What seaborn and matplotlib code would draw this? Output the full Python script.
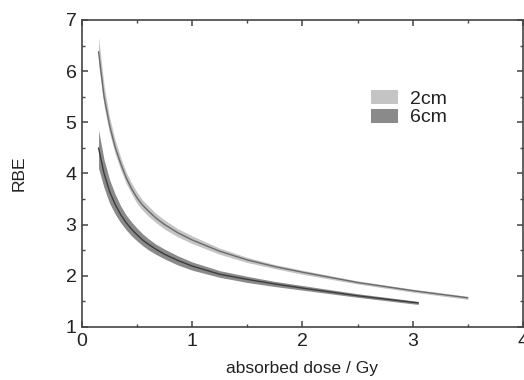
import matplotlib
matplotlib.use("Agg")
import matplotlib.pyplot as plt
import seaborn as sns
import pandas as pd
from matplotlib.patches import Patch
from matplotlib.ticker import MultipleLocator

# absorbed dose (Gy) and RBE
dose_2cm = [0.15, 0.2, 0.25, 0.3, 0.35, 0.4, 0.45, 0.5, 0.55, 0.6, 0.67, 0.75, 0.87, 1.0,
            1.25, 1.5, 1.75, 2.0, 2.5, 3.0, 3.5]
rbe_2cm = [6.38, 5.5, 4.94, 4.52, 4.2, 3.92, 3.7, 3.52, 3.38, 3.27, 3.13, 3.0, 2.84, 2.7,
           2.48, 2.31, 2.18, 2.07, 1.87, 1.71, 1.57]
rbe_2cm_lo = [6.15, 5.32, 4.79, 4.39, 4.08, 3.81, 3.6, 3.41, 3.28, 3.17, 3.04, 2.91, 2.76, 2.63,
              2.42, 2.26, 2.14, 2.03, 1.84, 1.68, 1.54]
rbe_2cm_hi = [6.67, 5.72, 5.1, 4.66, 4.32, 4.03, 3.81, 3.63, 3.48, 3.37, 3.22, 3.09, 2.92, 2.78,
              2.54, 2.36, 2.22, 2.11, 1.9, 1.74, 1.6]

dose_6cm = [0.15, 0.2, 0.25, 0.3, 0.35, 0.4, 0.45, 0.5, 0.55, 0.6, 0.67, 0.75, 0.87, 1.0,
            1.25, 1.5, 1.75, 2.0, 2.5, 3.05]
rbe_6cm = [4.5, 4.0, 3.65, 3.4, 3.2, 3.04, 2.91, 2.8, 2.7, 2.62, 2.52, 2.42, 2.3, 2.19,
           2.03, 1.93, 1.84, 1.76, 1.61, 1.47]
rbe_6cm_lo = [4.1, 3.72, 3.42, 3.21, 3.04, 2.9, 2.78, 2.68, 2.59, 2.51, 2.42, 2.33, 2.21, 2.11,
              1.97, 1.87, 1.79, 1.72, 1.58, 1.44]
rbe_6cm_hi = [4.85, 4.27, 3.88, 3.6, 3.37, 3.19, 3.05, 2.93, 2.82, 2.73, 2.62, 2.52, 2.39, 2.27,
              2.1, 1.99, 1.89, 1.81, 1.65, 1.5]

labels = ["2cm", "6cm"]
band_colors = ["#c4c4c4", "#8a8a8a"]
line_colors = ["#6a6a6a", "#3c3c3c"]

df = pd.concat([
    pd.DataFrame({"dose": dose_2cm, "rbe": rbe_2cm, "lo": rbe_2cm_lo, "hi": rbe_2cm_hi, "depth": "2cm"}),
    pd.DataFrame({"dose": dose_6cm, "rbe": rbe_6cm, "lo": rbe_6cm_lo, "hi": rbe_6cm_hi, "depth": "6cm"}),
])

sns.set_style("ticks")
plt.rcParams["font.family"] = ["Liberation Sans", "DejaVu Sans"]

fig = plt.figure(figsize=(5.24, 3.8), dpi=100)
ax = fig.add_axes([0.1565, 0.1395, 0.8415, 0.808])

for lab, bc, lc in zip(labels, band_colors, line_colors):
    sub = df[df["depth"] == lab]
    ax.fill_between(sub["dose"], sub["lo"], sub["hi"], color=bc, lw=0)
    sns.lineplot(data=sub, x="dose", y="rbe", ax=ax, color=lc, lw=1.0)

ax.set_xlim(0, 4)
ax.set_ylim(1, 7)
ax.xaxis.set_major_locator(MultipleLocator(1))
ax.xaxis.set_minor_locator(MultipleLocator(0.5))
ax.yaxis.set_major_locator(MultipleLocator(1))
ax.yaxis.set_minor_locator(MultipleLocator(0.5))
ax.tick_params(which="both", direction="in", top=True, right=True, color="#444444")
ax.tick_params(which="major", length=4, width=1.1, labelsize=14, pad=4, labelcolor="#222222")
ax.tick_params(which="minor", length=2.5, width=1.0)
for s in ax.spines.values():
    s.set_color("#444444")
    s.set_linewidth(1.2)

ax.set_xlabel("absorbed dose / Gy", fontsize=12.5, color="#222222", labelpad=8)
ax.set_ylabel("RBE", fontsize=12.5, color="#222222", labelpad=28)

handles = [Patch(facecolor=c, edgecolor="none") for c in band_colors]
ax.legend(handles, labels, loc="upper left", bbox_to_anchor=(0.655, 0.773), frameon=False,
          borderaxespad=0, borderpad=0, fontsize=14, handlelength=1.4, handleheight=0.75,
          handletextpad=0.6, labelspacing=0.05, labelcolor="#222222")

fig.savefig("out.png", dpi=100)
